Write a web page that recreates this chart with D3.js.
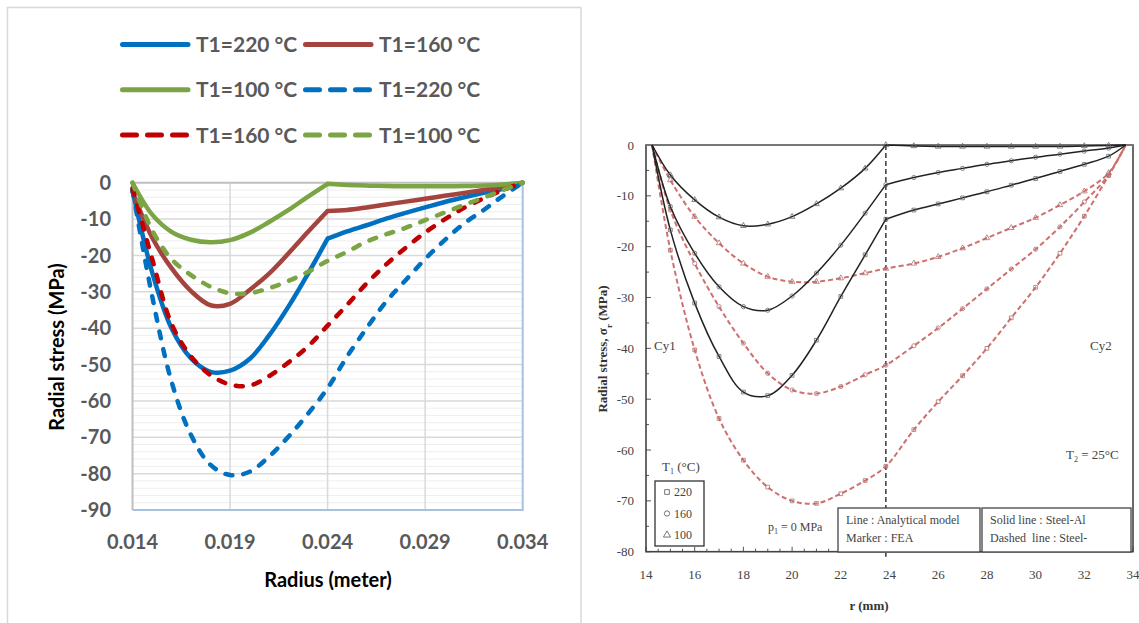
<!DOCTYPE html>
<html><head><meta charset="utf-8">
<script src="https://cdn.jsdelivr.net/npm/d3@7"></script>
<style>body{margin:0;background:#fff}svg{display:block}</style>
</head><body><svg id="c" width="1139" height="623"></svg>
<script>
// ---------------- LEFT CHART DATA (Excel) ----------------
const radiusM = [0.014,0.015,0.016,0.017,0.018,0.019,0.020,0.021,0.022,0.023,0.024,0.025,0.026,0.027,0.028,0.029,0.030,0.031,0.032,0.033,0.034];
const solid220 = [-2,-24.5,-40,-48.3,-52,-51.7,-48.5,-42,-34,-25,-15.4,-13.4,-11.7,-9.9,-8.3,-6.8,-5.3,-4.0,-2.8,-1.7,0];
const solid160 = [-2.5,-15,-23.5,-29.8,-33.7,-33.3,-29.5,-25,-19.4,-13.5,-7.8,-7.5,-6.8,-6.0,-5.2,-4.4,-3.6,-2.8,-2.0,-1.2,0];
const solid100 = [0,-8.7,-13.5,-15.7,-16.4,-15.8,-13.8,-10.8,-7.5,-3.8,-0.3,-0.6,-0.8,-0.9,-1.0,-1.0,-1.0,-0.9,-0.8,-0.5,0];
const dashed220 = [-2,-31,-54.7,-69.4,-77.6,-80.4,-79.5,-75.3,-69.8,-63.5,-56.5,-47.8,-40,-32.7,-26.8,-21,-15.8,-11.2,-7.5,-3.6,0];
const dashed160 = [-1.5,-20.8,-38.8,-47.8,-52.9,-55.5,-55.8,-53.2,-49.4,-45,-39.3,-33.6,-27.7,-22.5,-17.9,-13.7,-10.1,-6.9,-4.3,-2,0];
const dashed100 = [0,-13,-21,-25.4,-28.6,-30.4,-30.4,-29,-27,-24.5,-21.5,-19,-16.2,-14.2,-12.4,-10.3,-8.2,-6.1,-4.1,-2,0];
const leftXTicks = [0.014,0.019,0.024,0.029,0.034];
const leftYTicks = [0,-10,-20,-30,-40,-50,-60,-70,-80,-90];
const legendLabels = ["T1=220 °C","T1=160 °C","T1=100 °C","T1=220 °C","T1=160 °C","T1=100 °C"];

// ---------------- RIGHT CHART DATA (paper figure) ----------------
const radiusMm = [14.25,15,16,17,18,19,20,21,22,23,23.85,25,26,27,28,29,30,31,32,33,33.7];
const rSolid220 = [0,-16.7,-31.1,-41.6,-48.6,-49.3,-45.3,-38.4,-29.8,-21.6,-14.6,-12.8,-11.6,-10.4,-9.2,-7.9,-6.6,-5.2,-3.8,-2.2,0];
const rSolid160 = [0,-12.1,-21.3,-27.9,-31.8,-32.5,-29.7,-25.2,-19.7,-13.4,-7.8,-6.4,-5.4,-4.6,-3.8,-3.1,-2.4,-1.8,-1.2,-0.6,0];
const rSolid100 = [0,-5.9,-10.8,-14.2,-15.9,-15.6,-14.1,-11.6,-8.5,-4.6,0,-0.2,-0.3,-0.3,-0.3,-0.3,-0.3,-0.3,-0.2,-0.1,0];
const rDashed220 = [0,-20.7,-40.3,-53.8,-62,-67.3,-70,-70.5,-68.6,-66,-63.2,-56,-50.5,-45.4,-40,-34,-28,-21.3,-14,-6,0];
const rDashed160 = [0,-12.8,-23.3,-31.8,-39,-44.9,-48.2,-48.9,-47.5,-45.2,-43.3,-39.5,-36,-32.2,-28.3,-24.4,-20.5,-16.1,-11.2,-5.9,0];
const rDashed100 = [0,-6.9,-14.1,-19.3,-23.3,-25.9,-26.9,-26.9,-26.2,-25.2,-24.3,-23.3,-22,-20.3,-18.3,-16.3,-14.3,-11.8,-9.1,-5.5,0];
const rightXTicks = [14,16,18,20,22,24,26,28,30,32,34];
const rightYTicks = [0,-10,-20,-30,-40,-50,-60,-70,-80];
const interfaceR = 23.85;
const tempLegend = ["220","160","100"];

// =========================================================
const svg = d3.select("#c");
svg.append("rect").attr("width",1139).attr("height",623).attr("fill","#fff");

// ---------- LEFT ----------
const L = svg.append("g");
L.append("rect").attr("x",7.5).attr("y",7.5).attr("width",573.5).attr("height",640)
  .attr("fill","none").attr("stroke","#d9d9d9").attr("stroke-width",1.5);

const xL = d3.scaleLinear().domain([0.014,0.034]).range([132.5,522.7]);
const yL = d3.scaleLinear().domain([-90,0]).range([510,182.7]);

const minor = d3.range(-88,0,2).filter(v=>v%10!==0);
L.selectAll(".mn").data(minor).join("line")
  .attr("x1",xL(0.014)).attr("x2",xL(0.034)).attr("y1",d=>yL(d)).attr("y2",d=>yL(d))
  .attr("stroke","#eeeeee").attr("stroke-width",1);
L.selectAll(".mj").data(leftYTicks.filter(v=>v!==0&&v!==-90)).join("line")
  .attr("x1",xL(0.014)).attr("x2",xL(0.034)).attr("y1",d=>yL(d)).attr("y2",d=>yL(d))
  .attr("stroke","#d9d9d9").attr("stroke-width",1.5);
L.selectAll(".vg").data(leftXTicks.slice(1,-1)).join("line")
  .attr("x1",d=>xL(d)).attr("x2",d=>xL(d)).attr("y1",yL(0)).attr("y2",yL(-90))
  .attr("stroke","#d9d9d9").attr("stroke-width",1.5);
L.append("path").attr("d",`M${xL(0.014)},${yL(-90)}H${xL(0.034)}V${yL(0)}`)
  .attr("fill","none").attr("stroke","#a9c1e0").attr("stroke-width",2);
L.append("line").attr("x1",xL(0.014)).attr("x2",xL(0.014)).attr("y1",yL(0)).attr("y2",yL(-90))
  .attr("stroke","#bfbfbf").attr("stroke-width",2);
L.append("line").attr("x1",xL(0.014)).attr("x2",xL(0.034)).attr("y1",yL(0)).attr("y2",yL(0))
  .attr("stroke","#bfbfbf").attr("stroke-width",2);

const lblFont = "Lato, 'Open Sans', sans-serif";
L.selectAll(".yt").data(leftYTicks).join("text")
  .attr("x",111).attr("y",d=>yL(d)).attr("dy","0.36em").attr("text-anchor","end")
  .attr("font-family",lblFont).attr("font-weight","bold").attr("font-size",20).attr("fill","#595959")
  .text(d=>d);
L.selectAll(".xt").data(leftXTicks).join("text")
  .attr("x",d=>xL(d)).attr("y",542).attr("dy","0.36em").attr("text-anchor","middle")
  .attr("font-family",lblFont).attr("font-weight","bold").attr("font-size",20).attr("fill","#595959")
  .text(d=>d3.format(".3f")(d));
L.append("text").attr("x",328).attr("y",580).attr("dy","0.36em").attr("text-anchor","middle")
  .attr("font-family",lblFont).attr("font-weight","bold").attr("font-size",20).attr("fill","#000")
  .text("Radius (meter)");
L.append("text").attr("transform","translate(57,347) rotate(-90)").attr("dy","0.36em").attr("text-anchor","middle")
  .attr("font-family",lblFont).attr("font-weight","bold").attr("font-size",20).attr("fill","#000")
  .text("Radial stress (MPa)");

const C_BLUE="#0070C0", C_BROWN="#A5433F", C_GREEN="#7BA444", C_RED="#C00000";
const leftSeries = [
  {v:solid220, c:C_BLUE, dash:false},
  {v:solid160, c:C_BROWN, dash:false},
  {v:solid100, c:C_GREEN, dash:false},
  {v:dashed220, c:C_BLUE, dash:true},
  {v:dashed160, c:C_RED, dash:true},
  {v:dashed100, c:C_GREEN, dash:true}
];
const lineL = d3.line().x(d=>xL(d[0])).y(d=>yL(d[1])).curve(d3.curveCatmullRom.alpha(0.5));
const kinkL = radiusM.indexOf(0.024);
leftSeries.forEach(s=>{
  const pts = radiusM.map((x,i)=>[x,s.v[i]]);
  const segs = s.dash ? [pts] : [pts.slice(0,kinkL+1), pts.slice(kinkL)];
  L.append("path").attr("d",segs.map(p=>lineL(p)).join(""))
    .attr("fill","none").attr("stroke",s.c).attr("stroke-width",4.5)
    .attr("stroke-linecap","round").attr("stroke-linejoin","round")
    .attr("stroke-dasharray",s.dash?"7,11":null);
});

const legPos = [[120,44.5],[303,44.5],[120,89.8],[303,89.8],[120,135],[303,135]];
leftSeries.forEach((s,i)=>{
  const [lx,ly]=legPos[i];
  L.append("line").attr("x1",lx+2.5).attr("x2",lx+68).attr("y1",ly).attr("y2",ly)
    .attr("stroke",s.c).attr("stroke-width",5).attr("stroke-linecap","round")
    .attr("stroke-dasharray",s.dash?"14,11":null);
  L.append("text").attr("x",lx+76).attr("y",ly).attr("dy","0.36em")
    .attr("font-family",lblFont).attr("font-weight","bold").attr("font-size",21).attr("fill","#595959")
    .text(legendLabels[i]);
});

// ---------- RIGHT ----------
const R = svg.append("g");
const serif = "'Liberation Serif','Times New Roman',serif";
const xR = d3.scaleLinear().domain([14,34]).range([646,1133]);
const yR = d3.scaleLinear().domain([-80,0]).range([551.7,145]);

R.selectAll(".bt").data(d3.range(14,34.01,0.5)).join("line")
  .attr("x1",d=>xR(d)).attr("x2",d=>xR(d)).attr("y1",yR(-80)).attr("y2",d=>yR(-80)-(d%2===0?5:3))
  .attr("stroke","#555").attr("stroke-width",1);
R.selectAll(".lt").data(d3.range(-80,0.01,5)).join("line")
  .attr("x1",xR(14)).attr("x2",d=>xR(14)+(d%10===0?5:3)).attr("y1",d=>yR(d)).attr("y2",d=>yR(d))
  .attr("stroke","#555").attr("stroke-width",1);

R.append("rect").attr("x",xR(14)).attr("y",yR(0)).attr("width",xR(34)-xR(14)).attr("height",yR(-80)-yR(0))
  .attr("fill","none").attr("stroke","#444").attr("stroke-width",1.6);
R.append("line").attr("x1",xR(14)).attr("x2",xR(34)).attr("y1",yR(0)).attr("y2",yR(0))
  .attr("stroke","#777").attr("stroke-width",2.2);
R.append("line").attr("x1",xR(interfaceR)).attr("x2",xR(interfaceR)).attr("y1",yR(0)).attr("y2",yR(-80)+5)
  .attr("stroke","#444").attr("stroke-width",1.6).attr("stroke-dasharray","5,3");

R.selectAll(".rxt").data(rightXTicks).join("text")
  .attr("x",d=>xR(d)).attr("y",574).attr("dy","0.35em").attr("text-anchor","middle")
  .attr("font-family",serif).attr("font-size",13).attr("fill","#444").text(d=>d);
R.selectAll(".ryt").data(rightYTicks).join("text")
  .attr("x",634).attr("y",d=>yR(d)).attr("dy","0.35em").attr("text-anchor","end")
  .attr("font-family",serif).attr("font-size",13).attr("fill","#444").text(d=>d);
R.append("text").attr("x",869).attr("y",605).attr("dy","0.35em").attr("text-anchor","middle")
  .attr("font-family",serif).attr("font-weight","bold").attr("font-size",13).attr("fill","#333").text("r (mm)");
const yt = R.append("text").attr("transform","translate(602,349) rotate(-90)").attr("dy","0.35em")
  .attr("text-anchor","middle").attr("font-family",serif).attr("font-weight","bold").attr("font-size",13).attr("fill","#333");
yt.append("tspan").text("Radial stress, σ");
yt.append("tspan").attr("font-size",9).attr("dy","0.6em").text("r");
yt.append("tspan").attr("dy","-0.4em").text(" (MPa)");

const rightSeries = [
  {v:rSolid220, c:"#222", dash:false, m:d3.symbolSquare},
  {v:rSolid160, c:"#222", dash:false, m:d3.symbolCircle},
  {v:rSolid100, c:"#222", dash:false, m:d3.symbolTriangle},
  {v:rDashed220, c:"#cf6f6f", dash:true, m:d3.symbolSquare},
  {v:rDashed160, c:"#cf6f6f", dash:true, m:d3.symbolCircle},
  {v:rDashed100, c:"#cf6f6f", dash:true, m:d3.symbolTriangle}
];
const lineR = d3.line().x(d=>xR(d[0])).y(d=>yR(d[1])).curve(d3.curveCatmullRom.alpha(0.5));
const kinkR = radiusMm.indexOf(interfaceR);
rightSeries.slice().reverse().forEach(s=>{
  const pts = radiusMm.map((x,i)=>[x,s.v[i]]);
  const segs = s.dash ? [pts] : [pts.slice(0,kinkR+1), pts.slice(kinkR)];
  R.append("path").attr("d",segs.map(p=>lineR(p)).join(""))
    .attr("fill","none").attr("stroke",s.c).attr("stroke-width",s.dash?2:1.5)
    .attr("stroke-dasharray",s.dash?"5,3":null);
  R.selectAll(null).data(pts.slice(1,-1)).join("path")
    .attr("transform",d=>`translate(${xR(d[0])},${yR(d[1])})`)
    .attr("d",d3.symbol().type(s.m).size(14))
    .attr("fill","none").attr("stroke",s.dash?"#b07070":"#666").attr("stroke-width",0.8);
});

const ann = (x,y,t,anchor)=>R.append("text").attr("x",x).attr("y",y).attr("text-anchor",anchor||"start")
  .attr("font-family",serif).attr("font-size",13).attr("fill","#444").text(t);
ann(654,350,"Cy1");
ann(1090,350,"Cy2");
const t2 = R.append("text").attr("x",1066).attr("y",459).attr("font-family",serif).attr("font-size",13).attr("fill","#444");
t2.append("tspan").text("T"); t2.append("tspan").attr("font-size",8).attr("dy","3").text("2");
t2.append("tspan").attr("dy","-3").text(" = 25°C");
const t1 = R.append("text").attr("x",662).attr("y",471).attr("font-family",serif).attr("font-size",13).attr("fill","#444");
t1.append("tspan").text("T"); t1.append("tspan").attr("font-size",8).attr("dy","3").text("1");
t1.append("tspan").attr("dy","-3").text(" (°C)");
const p1 = R.append("text").attr("x",768).attr("y",531).attr("font-family",serif).attr("font-size",12).attr("fill","#444");
p1.append("tspan").text("p"); p1.append("tspan").attr("font-size",8).attr("dy","3").text("1");
p1.append("tspan").attr("dy","-3").text(" = 0 MPa");

R.append("rect").attr("x",655).attr("y",481).attr("width",49).attr("height",65)
  .attr("fill","#fff").attr("stroke","#333").attr("stroke-width",1.3);
[d3.symbolSquare,d3.symbolCircle,d3.symbolTriangle].forEach((sym,i)=>{
  const yy = 492 + i*21.5;
  R.append("path").attr("transform",`translate(667,${yy})`).attr("d",d3.symbol().type(sym).size(22))
    .attr("fill","none").attr("stroke","#666").attr("stroke-width",0.9);
  R.append("text").attr("x",674).attr("y",yy).attr("dy","0.35em").attr("font-family",serif)
    .attr("font-size",12).attr("fill","#444").text(tempLegend[i]);
});
R.append("rect").attr("x",838).attr("y",508).attr("width",142).attr("height",44)
  .attr("fill","#fff").attr("stroke","#444").attr("stroke-width",1.3);
R.append("rect").attr("x",982).attr("y",508).attr("width",149).attr("height",44)
  .attr("fill","#fff").attr("stroke","#444").attr("stroke-width",1.3);
ann(846,524,"Line : Analytical model").attr("font-size",12);
ann(846,542,"Marker : FEA").attr("font-size",12);
ann(990,524,"Solid line : Steel-Al").attr("font-size",12);
ann(990,542,"Dashed  line : Steel-").attr("font-size",12).style("white-space","pre");
</script></body></html>
